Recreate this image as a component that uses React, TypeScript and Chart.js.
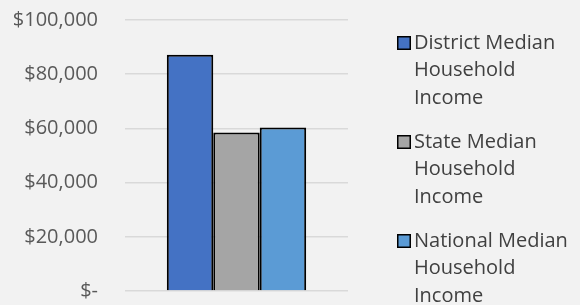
import React, { useEffect, useRef } from "react";
import { Chart, registerables } from "chart.js";

Chart.register(...registerables);

const categories = [""];
const seriesNames = [
  ["District Median", "Household", "Income"],
  ["State Median", "Household", "Income"],
  ["National Median", "Household", "Income"],
];
const districtValues = [87200];
const stateValues = [58500];
const nationalValues = [60300];
const yTicks = [0, 20000, 40000, 60000, 80000, 100000];

const colors = ["#4472C4", "#A5A5A5", "#5B9BD5"];
const FONT = "'Open Sans', sans-serif";

const legendPlugin = {
  id: "sideLegend",
  afterDraw(chart: any) {
    const ctx = chart.ctx as CanvasRenderingContext2D;
    ctx.save();
    ctx.font = `20px ${FONT}`;
    ctx.textBaseline = "middle";
    ctx.textAlign = "left";
    const x0 = 397;
    const startY = 43;
    const groupGap = 99;
    const lineGap = 27.5;
    chart.data.datasets.forEach((ds: any, i: number) => {
      const y = startY + i * groupGap;
      ctx.fillStyle = ds.backgroundColor;
      ctx.fillRect(x0, y - 7, 14, 14);
      ctx.strokeStyle = "#000";
      ctx.lineWidth = 1.5;
      ctx.strokeRect(x0 + 0.75, y - 6.25, 12.5, 12.5);
      ctx.fillStyle = "#404040";
      (ds.labelLines as string[]).forEach((t: string, j: number) => {
        ctx.fillText(t, 414, y + j * lineGap);
      });
    });
    ctx.restore();
  },
};

export default function App() {
  const ref = useRef<HTMLCanvasElement>(null);
  useEffect(() => {
    const bg = {
      id: "bg",
      beforeDraw(chart: any) {
        const c = chart.ctx;
        c.save();
        c.fillStyle = "#F2F2F2";
        c.fillRect(0, 0, chart.width, chart.height);
        c.restore();
      },
    };
    const chart = new Chart(ref.current!, {
      type: "bar",
      data: {
        labels: categories,
        datasets: [districtValues, stateValues, nationalValues].map((vals, i) => ({
          label: seriesNames[i].join(" "),
          labelLines: seriesNames[i],
          data: vals,
          backgroundColor: colors[i],
          borderColor: "#000000",
          borderWidth: 2,
          categoryPercentage: 0.625,
          barPercentage: 1,
        })) as any,
      },
      options: {
        animation: false,
        responsive: false,
        maintainAspectRatio: false,
        layout: { padding: { left: 0, right: 232, top: 20, bottom: 14 } },
        plugins: { legend: { display: false }, tooltip: { enabled: false } },
        scales: {
          x: {
            display: false,
          },
          y: {
            min: 0,
            max: 100000,
            afterBuildTicks(axis: any) {
              axis.ticks = yTicks.map((v) => ({ value: v }));
            },
            afterFit(axis: any) {
              axis.width = 125;
              axis.paddingTop = 0;
              axis.paddingBottom = 0;
            },
            border: { display: false },
            grid: { color: "#D9D9D9", lineWidth: 1.5, drawTicks: false },
            ticks: {
              padding: 27,
              color: "#595959",
              font: { family: FONT, size: 20 },
              callback: (v: any) =>
                Number(v) === 0 ? "$-" : "$" + Number(v).toLocaleString("en-US"),
            },
          },
        },
      },
      plugins: [bg, legendPlugin],
    });
    return () => chart.destroy();
  }, []);
  return (
    <div style={{ position: "fixed", left: 0, top: 0, width: 580, height: 305 }}>
      <canvas ref={ref} width={580} height={305} style={{ display: "block" }} />
    </div>
  );
}
